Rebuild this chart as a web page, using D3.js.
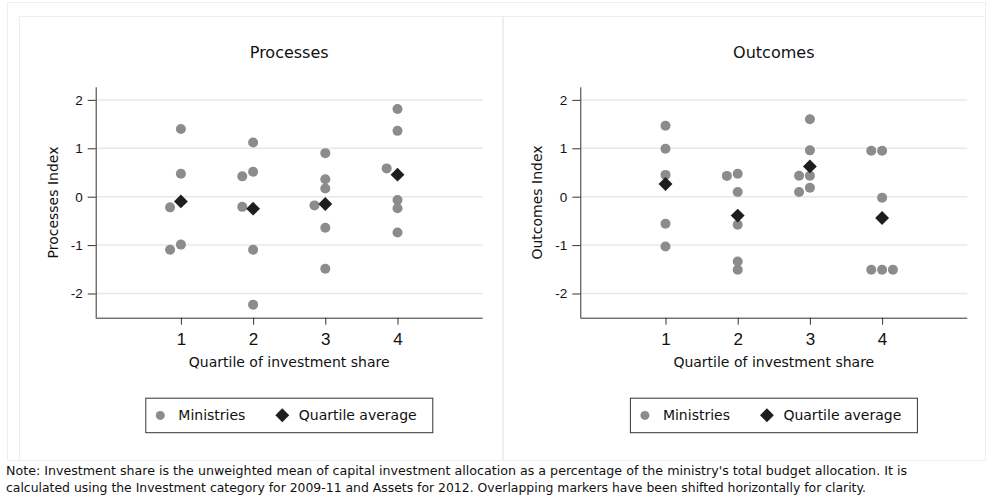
<!DOCTYPE html>
<meta charset="utf-8">
<title>Processes and Outcomes by investment quartile</title>
<style>
  body { margin: 0; background: #fff; }
  svg { display: block; font-family: 'DejaVu Sans', Verdana, sans-serif; }
  .grid line { stroke: #e8e8e8; stroke-width: 1.5px; }
  .axis path, .axis line { stroke: #333; }
  .axis text { fill: #111; }
  .frame { fill: none; stroke: #eeeeee; }
</style>
<script src="https://cdn.jsdelivr.net/npm/d3@7"></script>
<body>
<svg width="989" height="504"></svg>
<script>

// ---- data ----
var quartiles = [1, 2, 3, 4];
var yTicks = [-2, -1, 0, 1, 2];

// Processes: ministries (quartile, index, horizontal slot for overlaps)
var procQuartile = [1, 1, 1, 1, 1,  2, 2, 2, 2, 2, 2,  3, 3, 3, 3, 3, 3,  4, 4, 4, 4, 4, 4];
var procValue    = [1.40, 0.475, -0.22, -0.99, -1.095,
                    1.12, 0.517, 0.42, -0.21, -1.095, -2.23,
                    0.90, 0.36, 0.17, -0.18, -0.64, -1.49,
                    1.81, 1.36, 0.585, -0.07, -0.24, -0.74];
var procSlot     = [0, 0, -1, 0, -1,  0, 0, -1, -1, 0, 0,  0, 0, 0, -1, 0, 0,  0, 0, -1, 0, 0, 0];
var procMean     = [-0.097, -0.248, -0.152, 0.455];

// Outcomes
var outcQuartile = [1, 1, 1, 1, 1,  2, 2, 2, 2, 2, 2,  3, 3, 3, 3, 3, 3,  4, 4, 4, 4, 4, 4];
var outcValue    = [1.467, 0.99, 0.45, -0.56, -1.03,
                    0.475, 0.43, 0.097, -0.58, -1.34, -1.51,
                    1.60, 0.957, 0.434, 0.434, 0.186, 0.097,
                    0.95, 0.95, -0.02, -1.51, -1.51, -1.51];
var outcSlot     = [0, 0, 0, 0, 0,  0, -1, 0, 0, 0, 0,  0, 0, -1, 0, 0, -1,  -1, 0, 0, -1, 0, 1];
var outcMean     = [0.262, -0.39, 0.626, -0.44];

var noteLines = [
  "Note: Investment share is the unweighted mean of capital investment allocation as a percentage of the ministry's total budget allocation. It is",
  "calculated using the Investment category for 2009-11 and Assets for 2012. Overlapping markers have been shifted horizontally for clarity."
];

// ---- layout ----
var svg = d3.select("svg");
var plotW = 387, plotH = 230.4;
var dotColor = "#8c8c8c", avgColor = "#1e1e1e";
var shiftStep = 0.15;

// faint graph-region frames
svg.append("rect").attr("class", "frame")
  .attr("x", 7.5).attr("y", 2.5).attr("width", 978).attr("height", 458);
svg.append("rect").attr("class", "frame")
  .attr("x", 19.5).attr("y", 16.5).attr("width", 483).attr("height", 444);
svg.append("rect").attr("class", "frame")
  .attr("x", 503.5).attr("y", 16.5).attr("width", 482).attr("height", 444);

var x = d3.scaleLinear().domain([-0.18, 5.18]).range([0, plotW]);
var y = d3.scaleLinear().domain([-2.5, 2.26]).range([plotH, 0]);

var diamond = d3.symbol().type(d3.symbolSquare).size(96);

function drawPanel(left, title, yLabel, qs, vals, slots, means) {
  var g = svg.append("g").attr("transform", "translate(" + left + ",87.3)");

  g.append("g").attr("class", "grid")
    .selectAll("line").data(yTicks).enter().append("line")
    .attr("x1", 0).attr("x2", plotW)
    .attr("y1", function(d) { return y(d); })
    .attr("y2", function(d) { return y(d); });

  g.append("g").attr("class", "axis")
    .call(d3.axisLeft(y).tickValues(yTicks).tickSize(8).tickPadding(5)
      .tickFormat(function(d) { return String(d); }))
    .call(function(a) { a.select(".domain").attr("d", "M0.5,0V" + plotH); })
    .selectAll("text").style("font-size", "13.5px");

  g.append("g").attr("class", "axis")
    .attr("transform", "translate(0," + plotH + ")")
    .call(d3.axisBottom(x).tickValues(quartiles).tickSize(7).tickPadding(8)
      .tickFormat(function(d) { return String(d); }))
    .call(function(a) { a.select(".domain").attr("d", "M0,0.5H" + plotW); })
    .selectAll("text").style("font-size", "17px");

  var pts = vals.map(function(v, i) { return { q: qs[i], v: v, s: slots[i] }; });
  g.selectAll(".dot").data(pts).enter().append("circle")
    .attr("class", "dot")
    .attr("cx", function(d) { return x(d.q + d.s * shiftStep); })
    .attr("cy", function(d) { return y(d.v); })
    .attr("r", 5)
    .attr("fill", dotColor);

  g.selectAll(".avg").data(means).enter().append("path")
    .attr("class", "avg")
    .attr("d", diamond)
    .attr("transform", function(d, i) {
      return "translate(" + x(quartiles[i]) + "," + y(d) + ") rotate(45)";
    })
    .attr("fill", avgColor);

  // titles
  g.append("text")
    .attr("x", plotW / 2).attr("y", -29)
    .attr("text-anchor", "middle")
    .style("font-size", "16px").attr("fill", "#111")
    .text(title);

  g.append("text")
    .attr("x", plotW / 2).attr("y", plotH + 49)
    .attr("text-anchor", "middle")
    .style("font-size", "14px").attr("fill", "#111")
    .text("Quartile of investment share");

  g.append("text")
    .attr("transform", "translate(-38," + (plotH / 2) + ") rotate(-90)")
    .attr("text-anchor", "middle")
    .style("font-size", "14px").attr("fill", "#111")
    .text(yLabel);

  // legend
  var lg = g.append("g").attr("transform", "translate(49.6," + (plotH + 80) + ")");
  lg.append("rect")
    .attr("x", 0.5).attr("y", 0.5).attr("width", 287).attr("height", 34.5)
    .attr("fill", "#fff").attr("stroke", "#333");
  lg.append("circle").attr("cx", 15).attr("cy", 17.7).attr("r", 4.5).attr("fill", dotColor);
  lg.append("text").attr("x", 33).attr("y", 22.5).style("font-size", "14px")
    .attr("fill", "#111").text("Ministries");
  lg.append("path").attr("d", diamond)
    .attr("transform", "translate(137,17.5) rotate(45)").attr("fill", avgColor);
  lg.append("text").attr("x", 153.5).attr("y", 22.5).style("font-size", "14px")
    .attr("fill", "#111").text("Quartile average");
}

drawPanel(95.7, "Processes", "Processes Index", procQuartile, procValue, procSlot, procMean);
drawPanel(580.3, "Outcomes", "Outcomes Index", outcQuartile, outcValue, outcSlot, outcMean);

// footnote
svg.selectAll(".note").data(noteLines).enter().append("text")
  .attr("class", "note")
  .attr("x", 6)
  .attr("y", function(d, i) { return 475 + i * 16.5; })
  .attr("textLength", function(d, i) { return i === 0 ? 901 : 860; })
  .attr("lengthAdjust", "spacingAndGlyphs")
  .style("font-size", "12.5px").attr("fill", "#111")
  .text(function(d) { return d; });

</script>
</body>
